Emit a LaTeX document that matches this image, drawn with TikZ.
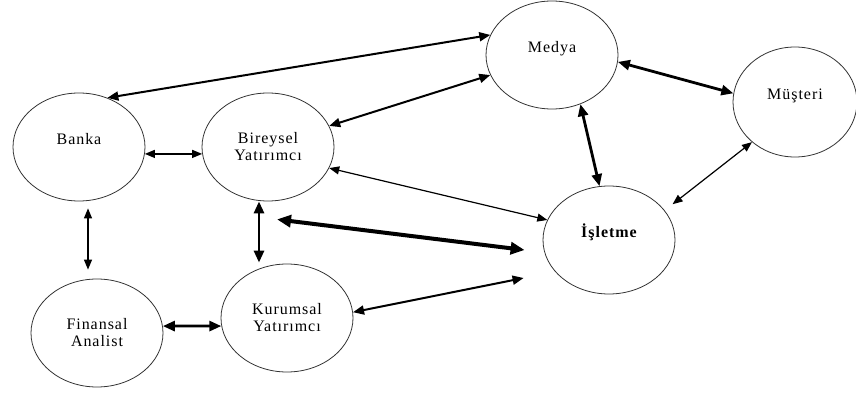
\documentclass[tikz,border=0pt]{standalone}
\usepackage{fontspec}
\newfontfamily\lblfont[LetterSpace=6]{Liberation Serif}
\usetikzlibrary{shapes.geometric,arrows.meta,calc}
\tikzset{
  ent/.style     ={ellipse, draw=black!80, line width=0.8pt, minimum width=132pt,
                   minimum height=108pt, inner sep=0pt, align=center,
                   font=\lblfont\fontsize{16}{17}\selectfont},
  one/.style     ={text height=11pt, text depth=15pt},
  relthin/.style ={{Triangle[length=10pt,width=8pt]}-{Triangle[length=10pt,width=8pt]}, line width=1.2pt},
  relmid/.style  ={{Triangle[length=11pt,width=9pt]}-{Triangle[length=11pt,width=9pt]}, line width=2pt},
  relbold/.style ={{Triangle[length=12pt,width=10pt]}-{Triangle[length=12pt,width=10pt]}, line width=2.8pt},
  relheavy/.style={{Triangle[length=14pt,width=12pt]}-{Triangle[length=14pt,width=12pt]}, line width=4pt},
}
\begin{document}
\begin{tikzpicture}[x=1pt,y=1pt]
\useasboundingbox (0,0) rectangle (856,396);

% actors
\node[ent,one] (banka)    at (79,249)  {Banka};
\node[ent]     (bireysel) at (268,249) {Bireysel\\Yatırımcı};
\node[ent]     (finansal) at (97,63)   {Finansal\\Analist};
\node[ent]     (kurumsal) at (287,78)  {Kurumsal\\Yatırımcı};
\node[ent,one] (medya)    at (552,341) {Medya};
\node[ent,one,minimum width=124pt,minimum height=110pt] (musteri) at (795,294) {Müşteri};
\node[ent,one,font=\lblfont\fontsize{16}{17}\selectfont\bfseries] (isletme) at (609,156) {İşletme};

% free ends near the firm
\coordinate (yatirim) at ($(bireysel.south)+(9,-18)$);
\coordinate (isl-a)   at ($(isletme.west)+(-18,-10)$);
\coordinate (isl-b)   at ($(isletme.west)+(-19,-38)$);

% relations
\draw[relmid]   (banka.60)     -- (medya.162);
\draw[relmid]   (bireysel.19)  -- (medya.198);
\draw[relbold]  (medya.-6)     -- (musteri.172);
\draw[relbold]  (medya.-60)    -- (isletme.100);
\draw[relthin,shorten >=10pt] (musteri.223) -- (isletme.28);
\draw[relthin]  (bireysel.-19) -- (isletme.162);
\draw[relheavy] (yatirim)      -- (isl-a);
\draw[relmid]   (kurumsal.5)   -- (isl-b);
\draw[relthin]  (banka.-6)     -- (bireysel.186);
\draw[relthin]  ($(banka.south)+(9,-7)$) -- ($(finansal.north)+(-9,9)$);
\draw[relbold]  ($(bireysel.south)+(-9,0)$) -- ($(kurumsal.north)+(-28,1)$);
\draw[relbold]  (finansal.6)   -- (kurumsal.187);
\end{tikzpicture}
\end{document}
